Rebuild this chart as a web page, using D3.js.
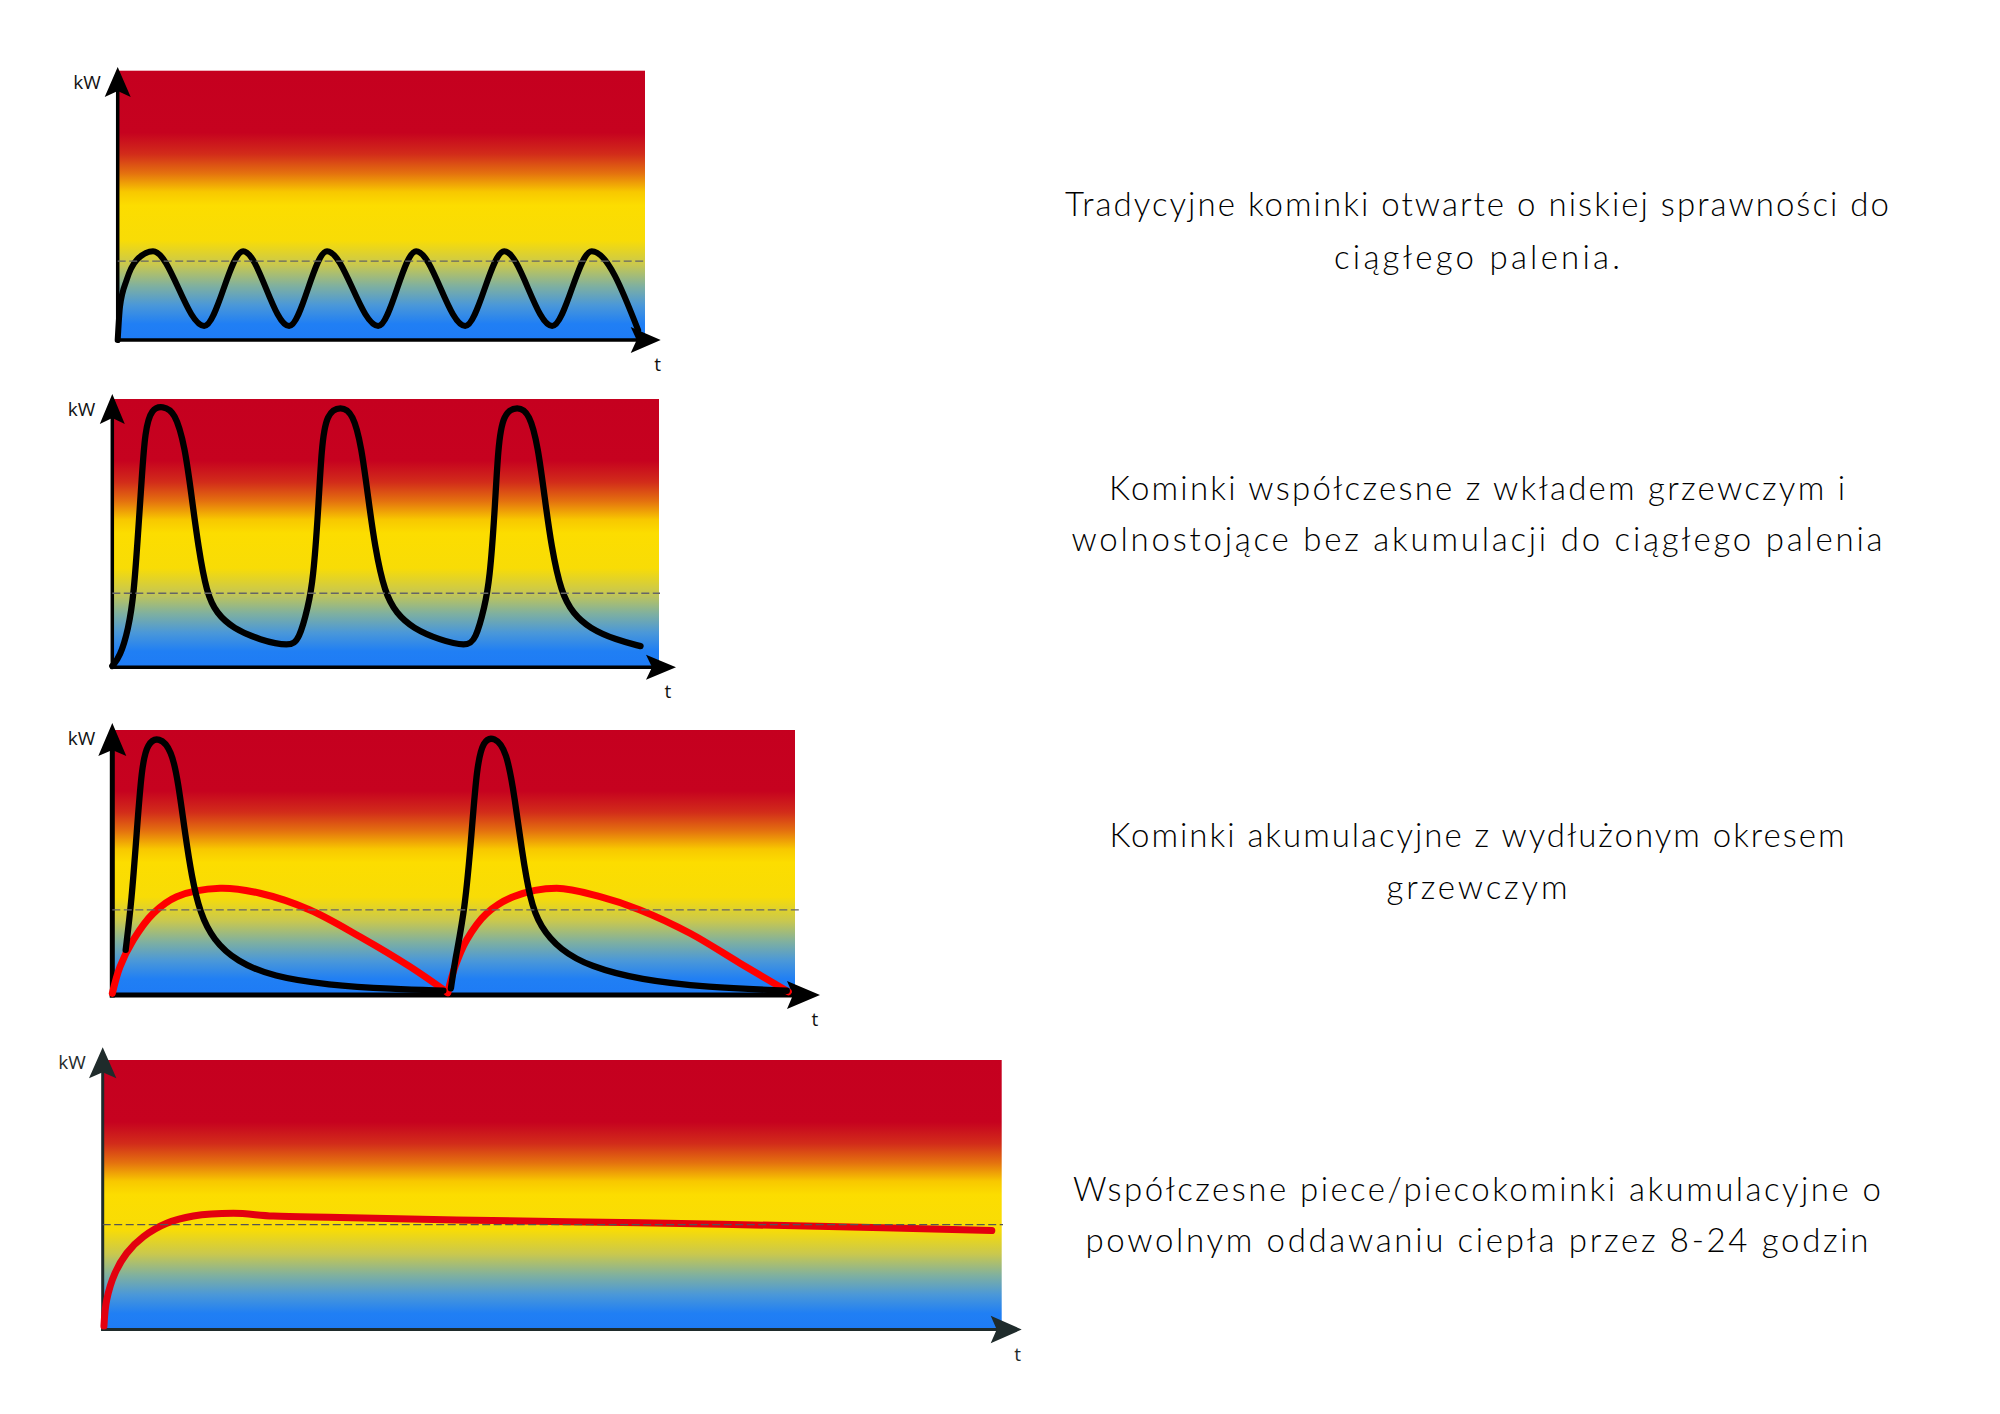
<!DOCTYPE html>
<html>
<head>
<meta charset="utf-8">
<script src="https://cdn.jsdelivr.net/npm/d3@7"></script>
<style>
  html, body { margin: 0; padding: 0; background: #fff; }
  svg { display: block; }
</style>
</head>
<body>
<svg id="chart" width="2000" height="1414"></svg>
<script>
"use strict";

// ---- data (t and kW in arbitrary 0-100 units) ----

// 1. open fireplace - small waves around the comfort level
const openFire = [[0,0],[0.44,12.4],[1.7,22.3],[3.6,29.7],[6.7,33],[16.4,5.2],[23.8,33],[32.5,5.2],
  [39.7,33],[49.4,5.2],[56.6,33],[65.9,5.2],[73.3,33],[82.4,5.2],[89.9,33],[98.7,3.7]];

// 2. insert / freestanding stove - three tall peaks
const insertFire = [[0,0.5],[1.41,4],[2.92,13.9],[3.97,27.6],[4.75,51.2],[5.37,69.8],[5.98,88.4],[7.2,96.5],
  [9.21,97.4],[11.46,95.3],[13.29,82.2],[14.51,63.6],[15.72,45],[17.25,27.6],[19.08,20.1],[22.11,14.5],
  [26.99,10.2],[32.47,7.7],[34.17,10.2],[35.82,22.6],[36.73,32.5],[37.65,57.4],[38.27,82.2],[39.18,94.7],
  [41.79,97.4],[44.04,94.7],[45.58,82.2],[46.78,63.6],[48.01,45],[49.84,27.6],[51.97,20.1],[55.01,14.5],
  [59.89,10.2],[64.77,7.7],[66.47,10.2],[68.11,22.6],[69.02,32.5],[69.94,57.4],[70.56,82.2],[71.47,94.7],
  [74.14,97.4],[76.33,94.7],[77.87,82.2],[79.07,63.6],[80.3,45],[82.13,27.6],[84.26,20.1],[87.3,14.5],
  [92.18,10.2],[96.62,7.9]];

// 3. accumulation fireplace - burn (black) and released heat (red), two loads
const accBurn1 = [[1.96,17],[2.84,35.8],[3.57,61.1],[4.31,86.2],[5.13,95.1],[6.84,97.5],[8.7,92.5],[9.67,80],
  [10.65,61.1],[11.63,44.6],[12.85,30.9],[14.79,20.8],[18.22,12.6],[23.58,6.9],[31.4,3.8],[41.2,2.2],[48.5,1.6]];
const accBurn2 = [[49.6,2.5],[50.2,13.2],[51.66,32.1],[52.64,61.1],[53.38,86.2],[54.34,96.2],[55.91,97.5],
  [57.77,92.5],[58.99,73.6],[59.97,54.7],[61.19,35.8],[62.66,25.8],[65.59,17],[69.98,10.7],[77.3,5.7],
  [87.07,2.9],[98.8,1.6]];
const accHeat1 = [[0,0.6],[1.13,10.7],[3.08,20.8],[6,30.8],[9.43,37.1],[15.78,40.3],[21.64,38.4],[28.96,32.1],
  [36.28,22],[43.6,10.7],[49.13,0.9]];
const accHeat2 = [[49.13,0.9],[50.2,10.7],[51.91,20.8],[54.84,30.8],[58.74,37.1],[65.09,40.3],[71.44,37.1],
  [77.3,32.1],[84.62,23.3],[91.94,12],[99.02,1.2]];

// 4. heavy masonry stove - slow, even release
const masonry = [[0.14,1.3],[0.44,10.9],[1.37,20.9],[2.67,28.3],[4.52,34.4],[7.12,39.4],[10.08,42.1],
  [14.53,43.1],[18.98,42.1],[26.4,41.6],[39.38,40.6],[59.77,39.6],[78.31,38.4],[98.9,36.7]];

// comfort level (dashed line) per panel, kW
const comfortLevel = [29.3, 27.6, 32.1, 38.9];

const axisLabels = ["kW", "t"];

const captions = [
  ["Tradycyjne kominki otwarte o niskiej sprawności do", "ciągłego palenia."],
  ["Kominki współczesne z wkładem grzewczym i", "wolnostojące bez akumulacji do ciągłego palenia"],
  ["Kominki akumulacyjne z wydłużonym okresem", "grzewczym"],
  ["Współczesne piece/piecokominki akumulacyjne o", "powolnym oddawaniu ciepła przez 8-24 godzin"]
];

// ---- layout ----
const smooth = d3.curveCatmullRom.alpha(0.5);
const panels = [
  {left:117.7, right:645, top:70.7, bottom:340, yTip:67, xTip:660.7, axisW:3.5, aLen:30, aHalf:13,
   axisColor:"#000", dashEnd:646, dashColor:"#666", tShift:3,
   series:[{data:openFire, color:"#000", width:6, curve:d3.curveMonotoneX}]},
  {left:112.3, right:659, top:399, bottom:667.3, yTip:394, xTip:676, axisW:3.5, aLen:30, aHalf:12.5,
   axisColor:"#000", dashEnd:660, dashColor:"#666", tShift:8,
   series:[{data:insertFire, color:"#000", width:6.3, curve:d3.curveBasis}]},
  {left:112.3, right:795, top:730, bottom:995, yTip:723, xTip:820, axisW:5, aLen:33, aHalf:14,
   axisColor:"#000", dashEnd:801, dashColor:"#666", tShift:5,
   series:[{data:accHeat1, color:"#ff0000", width:7, curve:smooth},
           {data:accHeat2, color:"#ff0000", width:7, curve:smooth},
           {data:accBurn1, color:"#000", width:6.3, curve:d3.curveBasis},
           {data:accBurn2, color:"#000", width:6.3, curve:d3.curveBasis}]},
  {left:102.7, right:1001.7, top:1060, bottom:1329.5, yTip:1047.3, xTip:1021.7, axisW:3, aLen:31, aHalf:13.7,
   axisColor:"#1f2b2b", dashEnd:1003, dashColor:"#555", tShift:4,
   series:[{data:masonry, color:"#e3000f", width:7, curve:smooth}]}
];

const captionX = 1477;
const captionBase = [[216,269],[500,551],[847,899],[1201,1252]];
const captionWidth = [[824,286],[736,811],[735,181],[808,783]];

const svg = d3.select("#chart");
svg.append("rect").attr("width", 2000).attr("height", 1414).attr("fill", "#fff");

// vertical heat gradient, shared by every panel
const grad = svg.append("defs").append("linearGradient")
  .attr("id", "heat").attr("x1", 0).attr("y1", 0).attr("x2", 0).attr("y2", 1);
[[0,"#c5001f"],[0.23,"#c6021f"],[0.31,"#d22c1a"],[0.38,"#e4700f"],[0.45,"#f8c800"],[0.5,"#fcdd00"],
 [0.63,"#f8dc06"],[0.72,"#c9c84e"],[0.8,"#7fb0a0"],[0.87,"#4b98d8"],[0.94,"#207ff4"],[1,"#1e7bf5"]]
  .forEach(function(s){ grad.append("stop").attr("offset", s[0]).attr("stop-color", s[1]); });

function arrowUp(x, y, len, half, notch) {
  return "M" + x + "," + y + "L" + (x-half) + "," + (y+len) + "L" + x + "," + (y+len-notch) +
         "L" + (x+half) + "," + (y+len) + "Z";
}
function arrowRight(x, y, len, half, notch) {
  return "M" + x + "," + y + "L" + (x-len) + "," + (y-half) + "L" + (x-len+notch) + "," + y +
         "L" + (x-len) + "," + (y+half) + "Z";
}

panels.forEach(function(p, k) {
  const x = d3.scaleLinear().domain([0, 100]).range([p.left, p.right]);
  const y = d3.scaleLinear().domain([0, 100]).range([p.bottom, p.top]);
  const g = svg.append("g").attr("class", "panel");
  const labelColor = p.axisColor === "#000" ? "#111" : p.axisColor;

  g.append("rect")
    .attr("x", x(0)).attr("y", y(100))
    .attr("width", x(100) - x(0)).attr("height", y(0) - y(100))
    .attr("fill", "url(#heat)");

  // axes with arrowheads
  g.append("line")
    .attr("x1", x(0)).attr("x2", x(0))
    .attr("y1", y(0) + p.axisW/2).attr("y2", p.yTip + p.aLen*0.6)
    .attr("stroke", p.axisColor).attr("stroke-width", p.axisW);
  g.append("line")
    .attr("x1", x(0) - p.axisW/2).attr("x2", p.xTip - p.aLen*0.6)
    .attr("y1", y(0)).attr("y2", y(0))
    .attr("stroke", p.axisColor).attr("stroke-width", p.axisW);
  g.append("path").attr("d", arrowUp(x(0), p.yTip, p.aLen, p.aHalf, 6)).attr("fill", p.axisColor);
  g.append("path").attr("d", arrowRight(p.xTip, y(0), p.aLen, p.aHalf, 6)).attr("fill", p.axisColor);

  g.append("text").text(axisLabels[0])
    .attr("x", x(0) - 17).attr("y", p.yTip + 22)
    .attr("text-anchor", "end")
    .attr("font-family", "'Open Sans', 'DejaVu Sans', sans-serif")
    .attr("font-size", 19).attr("fill", labelColor);
  g.append("text").text(axisLabels[1])
    .attr("x", p.xTip - p.tShift).attr("y", y(0) + 31)
    .attr("text-anchor", "middle")
    .attr("font-family", "'Open Sans', 'DejaVu Sans', sans-serif")
    .attr("font-size", 19).attr("fill", labelColor);

  p.series.forEach(function(s) {
    const line = d3.line()
      .x(function(d){ return x(d[0]); })
      .y(function(d){ return y(d[1]); })
      .curve(s.curve);
    g.append("path").datum(s.data)
      .attr("d", line)
      .attr("fill", "none")
      .attr("stroke", s.color)
      .attr("stroke-width", s.width)
      .attr("stroke-linecap", "round")
      .attr("stroke-linejoin", "round");
  });

  g.append("line")
    .attr("x1", x(0)).attr("x2", p.dashEnd)
    .attr("y1", y(comfortLevel[k])).attr("y2", y(comfortLevel[k]))
    .attr("stroke", p.dashColor).attr("stroke-width", 1.3)
    .attr("stroke-dasharray", "8,3.5");
});

// captions on the right
captions.forEach(function(lines, k) {
  lines.forEach(function(txt, j) {
    svg.append("text").text(txt)
      .attr("x", captionX).attr("y", captionBase[k][j])
      .attr("text-anchor", "middle")
      .attr("font-family", "Lato, 'Noto Sans', sans-serif")
      .attr("font-weight", 300)
      .attr("font-size", 33)
      .attr("fill", "#000")
      .attr("textLength", captionWidth[k][j])
      .attr("lengthAdjust", "spacing");
  });
});
</script>
</body>
</html>
